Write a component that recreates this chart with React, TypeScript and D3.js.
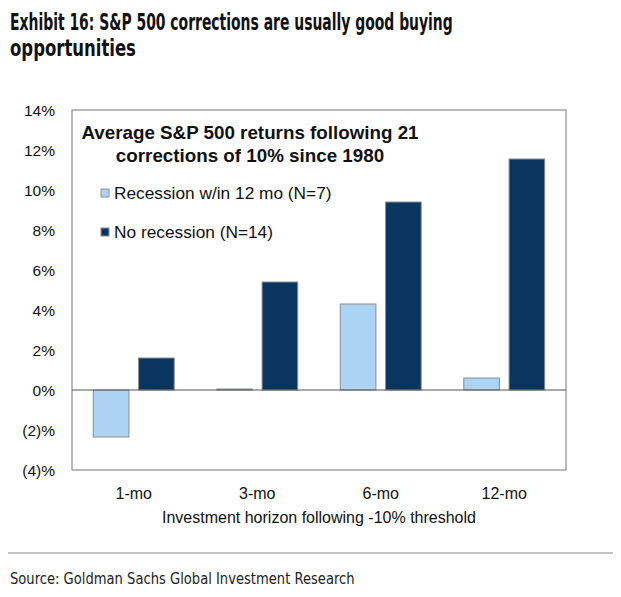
import React, { useEffect, useRef } from "react";
import * as d3 from "d3";

const categories = ["1-mo", "3-mo", "6-mo", "12-mo"];
const seriesNames = ["Recession w/in 12 mo (N=7)", "No recession (N=14)"];
const recessionValues = [-2.35, 0.05, 4.3, 0.6];
const noRecessionValues = [1.6, 5.4, 9.4, 11.55];
const yTicks = [-4, -2, 0, 2, 4, 6, 8, 10, 12, 14];

const colors = ["#acd3f1", "#0a355f"];

const condensed = "'Liberation Sans Narrow', 'DejaVu Sans Condensed', 'Roboto Condensed', sans-serif";
const arial = "'Liberation Sans', Arial, sans-serif";

// squeeze a line of text horizontally so it spans `width` px
function fitText(
  parent: d3.Selection<any, unknown, null, undefined>,
  str: string, x: number, y: number, width: number,
  size: number, weight: string, fill: string
) {
  const g = parent.append("g");
  const t = g.append("text")
    .attr("font-family", condensed)
    .attr("font-weight", weight)
    .attr("font-size", size)
    .attr("fill", fill)
    .text(str);
  const len = (t.node() as SVGTextElement).getComputedTextLength() || width;
  g.attr("transform", `translate(${x},${y}) scale(${width / len},1)`);
}

export default function App() {
  const ref = useRef<SVGSVGElement | null>(null);

  useEffect(() => {
    const svg = d3.select(ref.current);
    svg.selectAll("*").remove();

    const W = 621;
    const H = 597;
    const plot = { left: 72, right: 566, top: 110, bottom: 470 };

    svg.append("rect").attr("width", W).attr("height", H).attr("fill", "#fff");

    // heading
    fitText(svg as any, "Exhibit 16: S&P 500 corrections are usually good buying", 10, 30, 443, 23.5, "bold", "#111");
    fitText(svg as any, "opportunities", 10, 56, 126, 23.5, "bold", "#111");

    const y = d3.scaleLinear().domain([-4, 14]).range([plot.bottom, plot.top]);
    const x0 = d3.scaleBand<string>().domain(categories).range([plot.left, plot.right]).padding(0);
    const x1 = d3.scaleBand<number>().domain([0, 1]).range([0, x0.bandwidth()])
      .paddingInner(0.213).paddingOuter(0.47);

    // plot frame
    svg.append("rect")
      .attr("x", plot.left).attr("y", plot.top)
      .attr("width", plot.right - plot.left).attr("height", plot.bottom - plot.top)
      .attr("fill", "none").attr("stroke", "#8c8c8c").attr("stroke-width", 1.2);

    // y tick labels
    svg.append("g").selectAll("text").data(yTicks).join("text")
      .attr("x", 55)
      .attr("y", d => y(d))
      .attr("dy", "0.36em")
      .attr("text-anchor", "end")
      .attr("font-family", arial)
      .attr("font-size", 15.5)
      .attr("fill", "#111")
      .text(d => (d < 0 ? `(${Math.abs(d)})%` : `${d}%`));

    // bars
    const series = [recessionValues, noRecessionValues];
    const rows = categories.flatMap((c, i) => series.map((s, k) => ({ c, k, v: s[i] })));
    svg.append("g").selectAll("rect").data(rows).join("rect")
      .attr("x", d => (x0(d.c) as number) + (x1(d.k) as number))
      .attr("width", x1.bandwidth())
      .attr("y", d => y(Math.max(0, d.v)))
      .attr("height", d => Math.abs(y(d.v) - y(0)))
      .attr("fill", d => colors[d.k])
      .attr("stroke", "#8a8f96")
      .attr("stroke-width", 1);

    // zero line
    svg.append("line")
      .attr("x1", plot.left).attr("x2", plot.right)
      .attr("y1", y(0)).attr("y2", y(0))
      .attr("stroke", "#555").attr("stroke-width", 1.2);

    // x labels
    svg.append("g").selectAll("text").data(categories).join("text")
      .attr("x", d => (x0(d) as number) + x0.bandwidth() / 2)
      .attr("y", 499)
      .attr("text-anchor", "middle")
      .attr("font-family", arial)
      .attr("font-size", 16)
      .attr("fill", "#111")
      .text(d => d);

    svg.append("text")
      .attr("x", (plot.left + plot.right) / 2)
      .attr("y", 523)
      .attr("text-anchor", "middle")
      .attr("font-family", arial)
      .attr("font-size", 16)
      .attr("fill", "#111")
      .text("Investment horizon following -10% threshold");

    // legend
    const lg = svg.append("g");
    const lt = lg.append("text")
      .attr("text-anchor", "middle")
      .attr("font-family", arial)
      .attr("font-weight", "bold")
      .attr("font-size", 18.8)
      .attr("fill", "#111");
    lt.append("tspan").attr("x", 250).attr("y", 139).text("Average S&P 500 returns following 21");
    lt.append("tspan").attr("x", 250).attr("y", 162).text("corrections of 10% since 1980");

    seriesNames.forEach((name, k) => {
      const cy = 193 + k * 39;
      lg.append("rect")
        .attr("x", 101).attr("y", cy - 4)
        .attr("width", 8).attr("height", 8)
        .attr("fill", colors[k]).attr("stroke", "#8a8f96").attr("stroke-width", 1);
      lg.append("text")
        .attr("x", 114).attr("y", cy).attr("dy", "0.36em")
        .attr("font-family", arial)
        .attr("font-size", 17.3)
        .attr("fill", "#111")
        .text(name);
    });

    // footer
    svg.append("line")
      .attr("x1", 8).attr("x2", W)
      .attr("y1", 553).attr("y2", 553)
      .attr("stroke", "#b0b0b0").attr("stroke-width", 1.5);

    fitText(svg as any, "Source: Goldman Sachs Global Investment Research", 10, 584, 345, 16, "normal", "#222");
  }, []);

  return (
    <div style={{ margin: -8 }}>
      <svg ref={ref} width={621} height={597} style={{ display: "block" }} />
    </div>
  );
}
